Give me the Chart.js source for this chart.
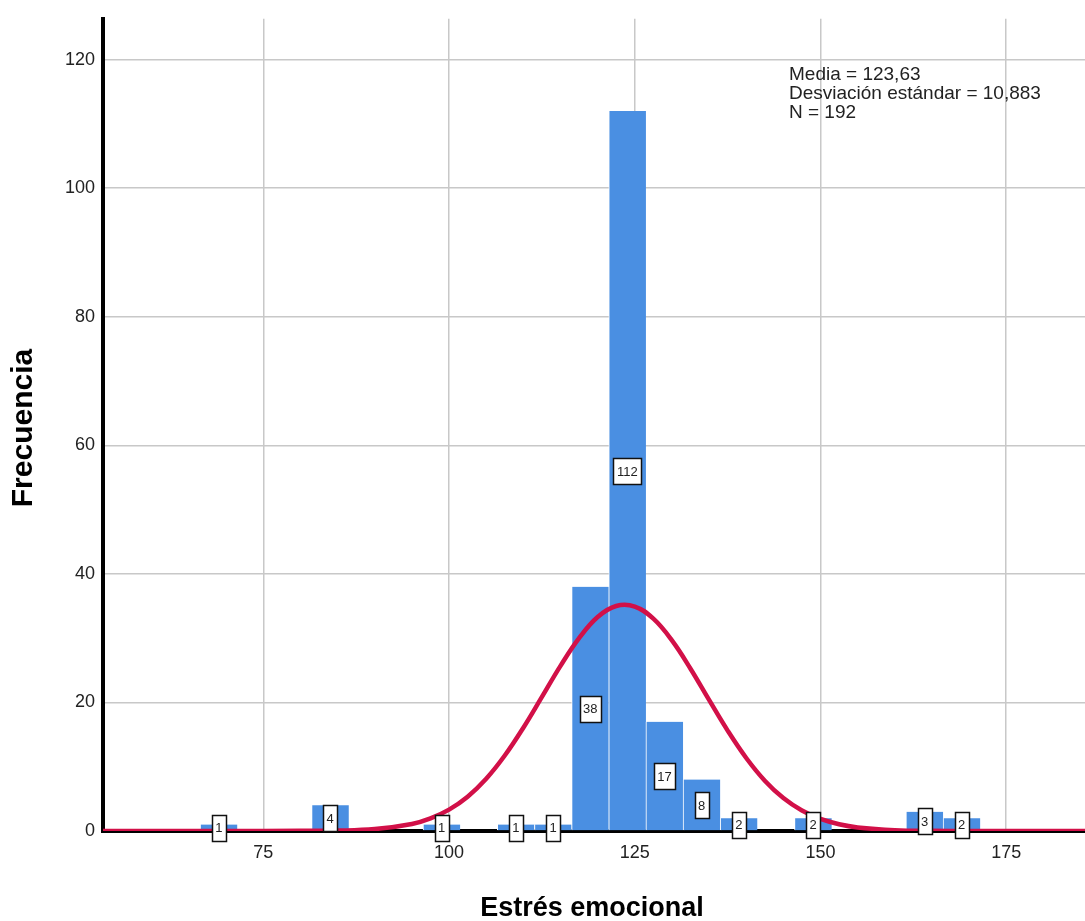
<!DOCTYPE html>
<html>
<head>
<meta charset="utf-8">
<title>Estrés emocional</title>
<script src="https://cdn.jsdelivr.net/npm/chart.js@4/dist/chart.umd.min.js"></script>
<style>
  body { margin: 0; background: #ffffff; }
  canvas { display: block; }
</style>
</head>
<body>
<canvas id="histograma" width="1085" height="921"></canvas>
<script>

// centros de los intervalos (ancho 5) y frecuencias
var binCenters = [69, 84, 99, 109, 114, 119, 124, 129, 134, 139, 149, 164, 169];
var frequencies = [1, 4, 1, 1, 1, 38, 112, 17, 8, 2, 2, 3, 2];

// curva normal
var curveX = [53.4, 70, 80, 85, 90, 95, 97.5, 100, 102.5, 105, 107.5, 110, 112.5, 115, 117.5, 120, 122.5,
              125, 127.5, 130, 132.5, 135, 137.5, 140, 142.5, 145, 147.5, 150, 152.5, 155, 160, 165, 170, 185.6];
var curveY = [0, 0, 0.02, 0.06, 0.3, 1.1, 1.97, 3.33, 5.34, 8.13, 11.74, 16.07, 20.86, 25.69, 30.0, 33.29, 35.0,
              34.91, 33.03, 29.65, 25.25, 20.39, 15.62, 11.36, 7.83, 5.12, 3.18, 1.87, 1.04, 0.55, 0.13, 0.02, 0, 0];

var xTickValues = [75, 100, 125, 150, 175];
var yTickValues = [0, 20, 40, 60, 80, 100, 120];

var statsLines = ['Media = 123,63', 'Desviación estándar = 10,883', 'N = 192'];
var xTitle = 'Estrés emocional';
var yTitle = 'Frecuencia';

var FONT = '"Liberation Sans", Arial, sans-serif';

function buildPoints(xs, ys) {
  var points = [];
  for (var i = 0; i < xs.length; i++) {
    points.push({ x: xs[i], y: ys[i] });
  }
  return points;
}

// cajitas con el numero dentro de cada barra
var boxLabels = {
  id: 'boxLabels',
  afterDatasetsDraw: function(chart) {
    var ctx = chart.ctx;
    var meta = chart.getDatasetMeta(1);
    var yScale = chart.scales.y;

    ctx.save();
    ctx.font = '13px ' + FONT;
    ctx.textAlign = 'center';
    ctx.textBaseline = 'middle';
    for (var i = 0; i < frequencies.length; i++) {
      var bar = meta.data[i];
      var cy = yScale.getPixelForValue(frequencies[i] / 2);
      var text = String(frequencies[i]);
      var w = Math.round(ctx.measureText(text).width + 7);
      var h = 26;
      var left = Math.round(bar.x - w / 2) + 0.5;
      var top = Math.round(cy - h / 2) + 0.5;
      ctx.fillStyle = '#ffffff';
      ctx.fillRect(left, top, w, h);
      ctx.strokeStyle = '#111111';
      ctx.lineWidth = 1.5;
      ctx.strokeRect(left, top, w, h);
      ctx.fillStyle = '#222222';
      ctx.fillText(text, bar.x, cy + 1);
    }
    ctx.restore();
  }
};

// texto de estadisticos y titulos de los ejes
var extraText = {
  id: 'extraText',
  afterDraw: function(chart) {
    var ctx = chart.ctx;
    ctx.save();

    ctx.fillStyle = '#222222';
    ctx.font = '19px ' + FONT;
    ctx.textAlign = 'left';
    ctx.textBaseline = 'alphabetic';
    for (var i = 0; i < statsLines.length; i++) {
      ctx.fillText(statsLines[i], 789, 80 + i * 19);
    }

    ctx.fillStyle = '#000000';
    ctx.font = 'bold 27px ' + FONT;
    ctx.textAlign = 'center';
    ctx.textBaseline = 'middle';
    ctx.fillText(xTitle, 592, 909);

    ctx.translate(24, 428);
    ctx.rotate(-Math.PI / 2);
    ctx.font = 'bold 30px ' + FONT;
    ctx.fillText(yTitle, 0, 0);

    ctx.restore();
  }
};

function printHistogram() {

  var ctx = document.getElementById('histograma').getContext('2d');
  new Chart(ctx, {
    type: 'bar',
    data: {
      datasets: [{
        type: 'line',
        label: 'Normal',
        data: buildPoints(curveX, curveY),
        borderColor: 'rgb(210, 16, 72)',
        borderWidth: 4.5,
        pointRadius: 0,
        tension: 0.4,
        fill: false,
        order: 0
      }, {
        type: 'bar',
        label: 'Frecuencia',
        data: buildPoints(binCenters, frequencies),
        backgroundColor: '#4a8fe2',
        borderColor: '#ffffff',
        borderWidth: { left: 1, right: 0, top: 0, bottom: 0 },
        borderSkipped: 'start',
        barPercentage: 1,
        categoryPercentage: 1,
        order: 1
      }]
    },
    options: {
      responsive: false,
      devicePixelRatio: 1,
      animation: false,
      layout: {
        padding: { top: 15, left: 0, right: 0, bottom: 0 }
      },
      plugins: {
        legend: { display: false },
        tooltip: { enabled: false }
      },
      scales: {
        x: {
          type: 'linear',
          offset: false,
          min: 53.42,
          max: 185.6,
          afterBuildTicks: function(scale) {
            scale.ticks = xTickValues.map(function(v) { return { value: v }; });
          },
          afterFit: function(scale) {
            scale.height = 90;
          },
          grid: {
            offset: false,
            color: '#c8c8c8',
            lineWidth: 1.5,
            drawTicks: false
          },
          border: {
            display: true,
            color: '#000000',
            width: 4
          },
          ticks: {
            padding: 11,
            color: '#222222',
            font: { family: FONT, size: 18 }
          }
        },
        y: {
          min: 0,
          max: 126.35,
          afterBuildTicks: function(scale) {
            scale.ticks = yTickValues.map(function(v) { return { value: v }; });
          },
          afterFit: function(scale) {
            scale.width = 103;
          },
          grid: {
            color: '#c8c8c8',
            lineWidth: 1.5,
            drawTicks: false
          },
          border: {
            display: true,
            color: '#000000',
            width: 4
          },
          ticks: {
            padding: 8,
            color: '#222222',
            font: { family: FONT, size: 18 }
          }
        }
      }
    },
    plugins: [boxLabels, extraText]
  });
}

printHistogram();
</script>
</body>
</html>
